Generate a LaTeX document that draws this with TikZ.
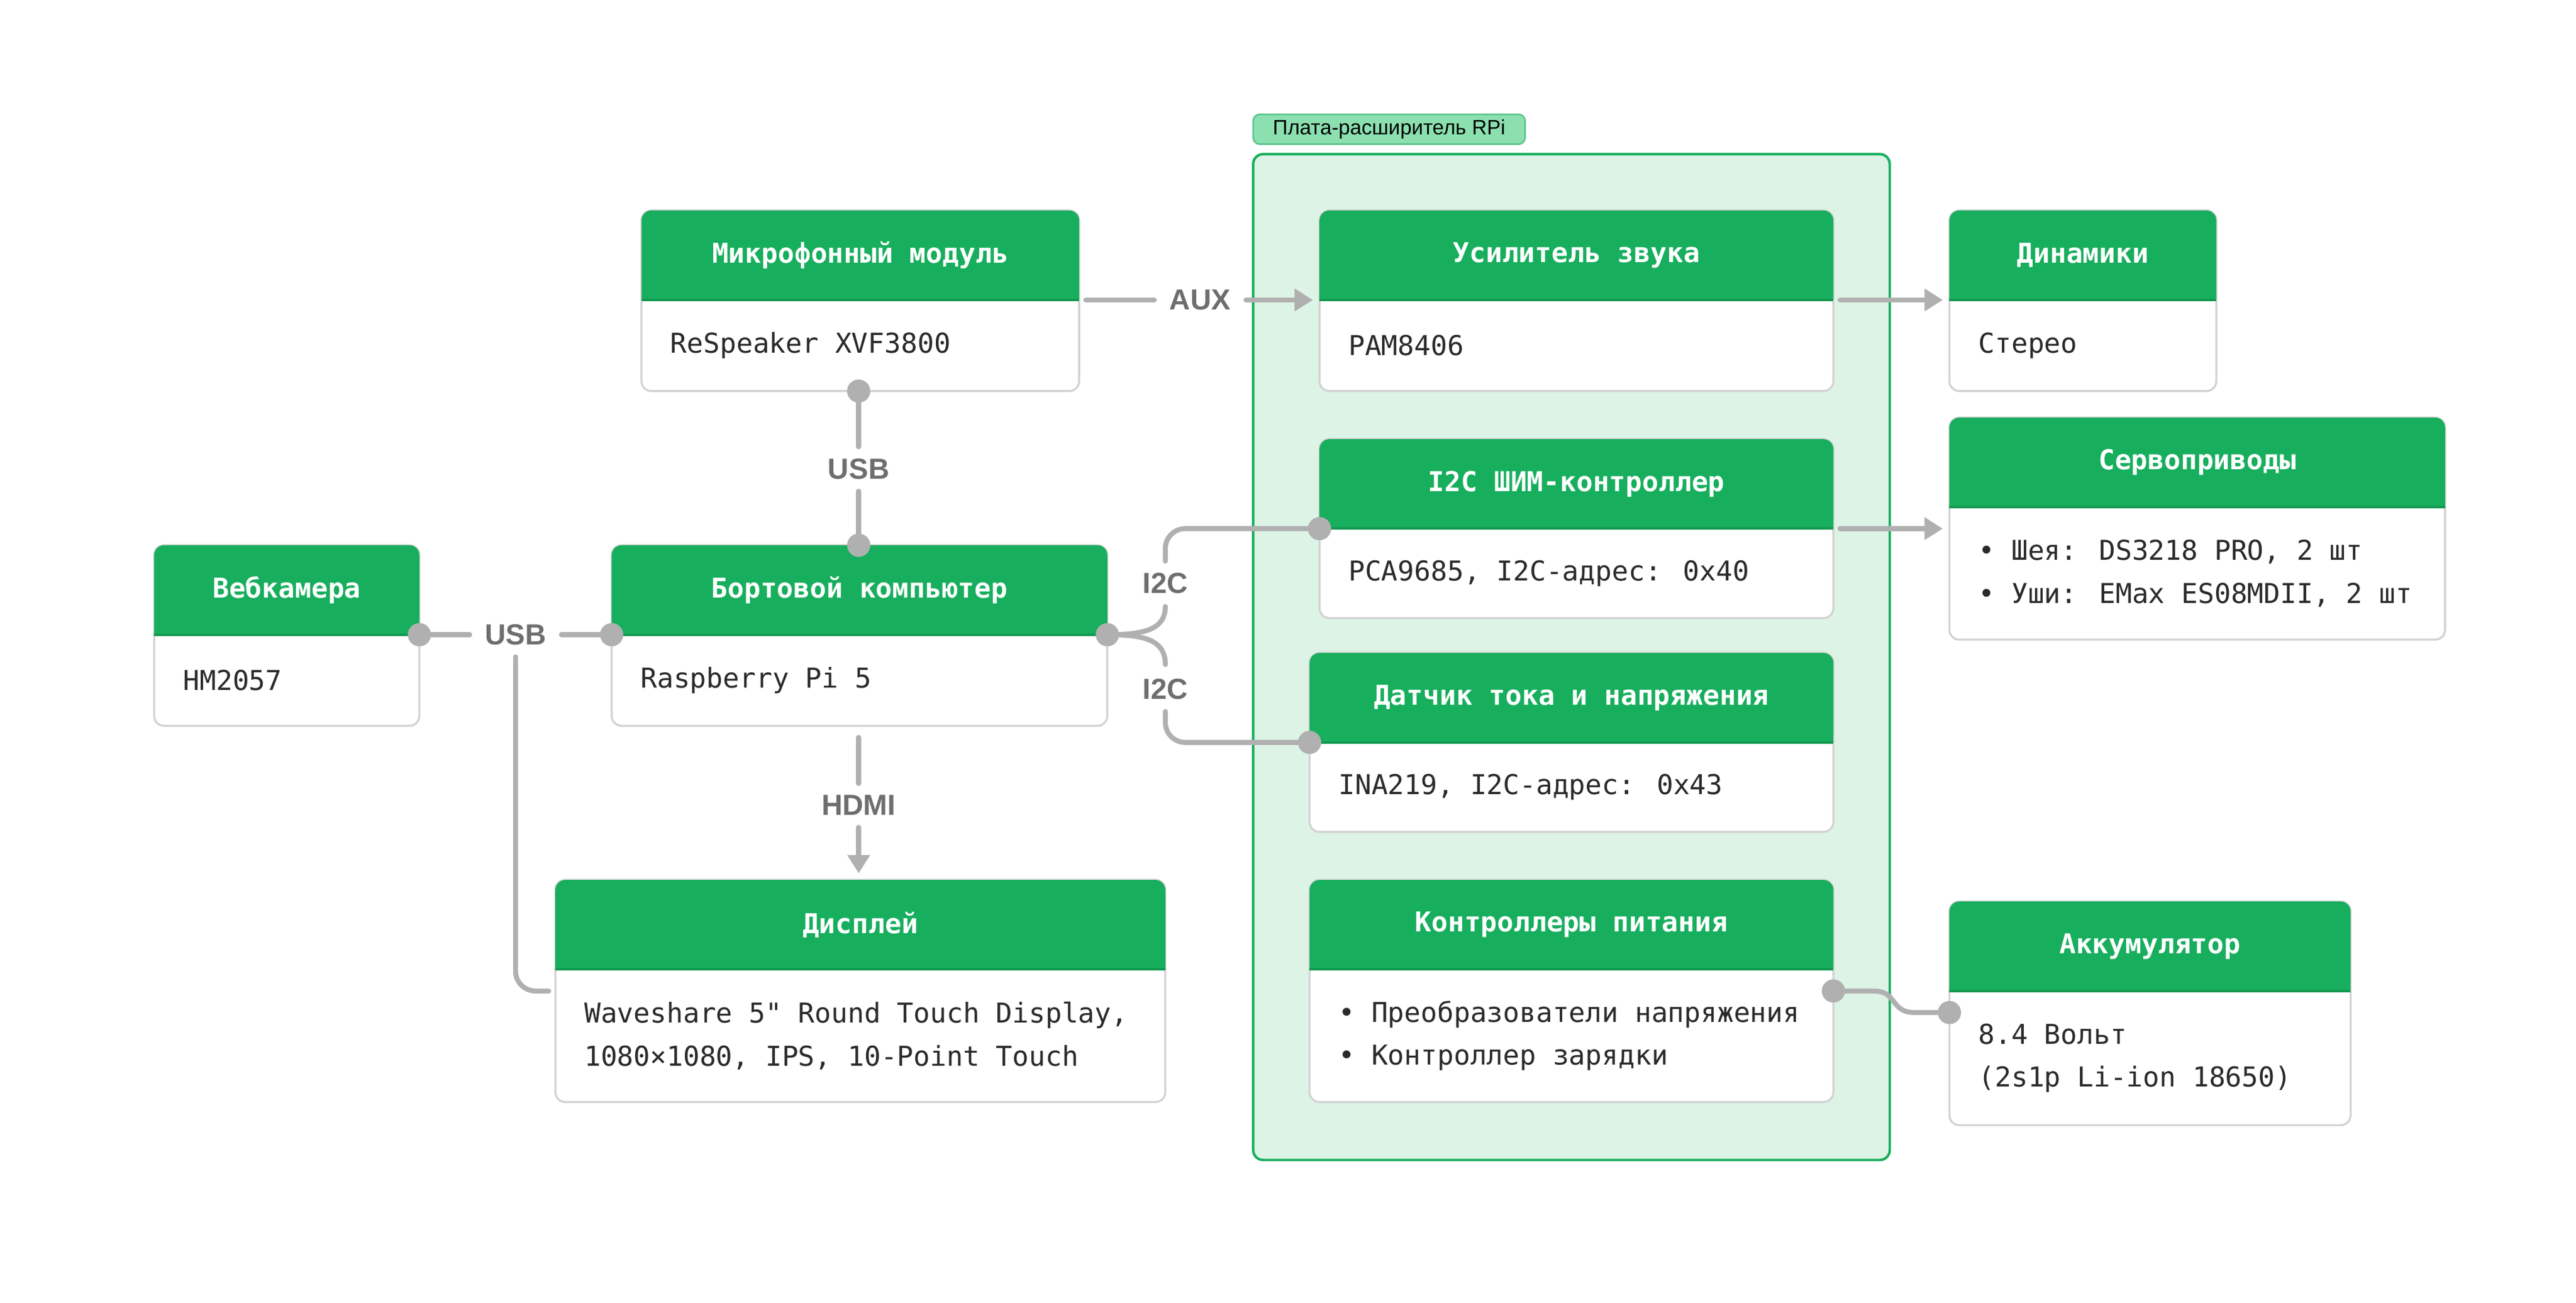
\documentclass[tikz,border=0pt]{standalone}
\usepackage{fontspec}
\newfontfamily\mono{DejaVu Sans Mono}
\newfontfamily\lab{Liberation Sans}
\usetikzlibrary{arrows.meta}
\definecolor{hg}{HTML}{17AE5D}
\definecolor{hgd}{HTML}{12984F}
\definecolor{bd}{HTML}{D2D2D2}
\definecolor{ln}{HTML}{B0B0B0}
\definecolor{lt}{HTML}{6E6E6E}
\definecolor{cont}{HTML}{DDF3E6}
\definecolor{tag}{HTML}{8CE0B0}
\definecolor{txt}{HTML}{2A2A2A}
\tikzset{
 conn/.style={draw=ln,line width=3,line cap=round},
 arr/.style={conn,-{Triangle[length=11,width=13]}},
 dot/.style={circle,fill=ln,inner sep=0,minimum size=14},
 lbl/.style={font=\lab\bfseries\fontsize{17.5}{20}\selectfont,text=lt,inner xsep=9,inner ysep=7},
 hdrt/.style={font=\mono\bfseries\fontsize{16.5}{20}\selectfont,text=white},
 bodyt/.style={font=\mono\fontsize{16.5}{26}\selectfont,text=txt,align=left,anchor=west},
}
\newcommand\blk[8]{%
 \fill[white,draw=bd,line width=1.2,rounded corners=6] (#2,#3) rectangle (#4,#5);
 \fill[hg] (#2,#6) [rounded corners=6] -- (#2,#3) -- (#4,#3) [sharp corners] -- (#4,#6) -- cycle;
 \draw[hgd,line width=1.5] (#2,#6) -- (#4,#6);
 \node[hdrt] (#1h) at ({(#2+#4)/2},{(#3+#6)/2}) {#7};
 \node[bodyt] (#1) at ({#2+14},{(#6+#5)/2}) {#8};
}
\begin{document}
\begin{tikzpicture}[x=1pt,y=-1pt]
\useasboundingbox (0,0) rectangle (1554,786);
\fill[white] (0,0) rectangle (1554,786);
% container
\fill[cont,draw=hg,line width=1.5,rounded corners=6] (756,93) rectangle (1140,700);
\fill[tag,draw=hg!70,line width=1,rounded corners=4] (756,69) rectangle (920,87);
\node[font=\lab\fontsize{12.5}{14}\selectfont,text=black] (tagt) at (838,78) {Плата-расширитель RPi};
% blocks
\blk{mic}{387}{127}{651}{236}{181}{Микрофонный модуль}{ReSpeaker XVF3800}
\blk{amp}{796}{127}{1106}{236}{181}{Усилитель звука}{PAM8406}
\blk{dyn}{1176}{127}{1337}{236}{181}{Динамики}{Стерео}
\blk{pwm}{796}{265}{1106}{373}{319}{I2C ШИМ-контроллер}{PCA9685, I2C-адрес: 0x40}
\blk{srv}{1176}{252}{1475}{386}{306}{Сервоприводы}{• Шея: DS3218 PRO, 2 шт\\• Уши: EMax ES08MDII, 2 шт}
\blk{cam}{93}{329}{253}{438}{383}{Вебкамера}{HM2057}
\blk{pc}{369}{329}{668}{438}{383}{Бортовой компьютер}{Raspberry Pi 5}
\blk{sen}{790}{394}{1106}{502}{448}{Датчик тока и напряжения}{INA219, I2C-адрес: 0x43}
\blk{dsp}{335}{531}{703}{665}{585}{Дисплей}{Waveshare 5" Round Touch Display,\\1080×1080, IPS, 10-Point Touch}
\blk{pwr}{790}{531}{1106}{665}{585}{Контроллеры питания}{• Преобразователи напряжения\\• Контроллер зарядки}
\blk{bat}{1176}{544}{1418}{679}{598}{Аккумулятор}{8.4 Вольт\\(2s1p Li-ion 18650)}
% labels
\node[lbl] (laux) at (724,181) {AUX};
\node[lbl] (lusb1) at (518,283) {USB};
\node[lbl] (lusb2) at (311,383) {USB};
\node[lbl] (li1) at (703,352) {I2C};
\node[lbl] (li2) at (703,416) {I2C};
\node[lbl] (lhdmi) at (518,486) {HDMI};
% coordinates
\coordinate (micE) at (655,181); \coordinate (ampW) at (792,181);
\coordinate (ampE) at (1110,181); \coordinate (dynW) at (1172,181);
\coordinate (pwmE) at (1110,319); \coordinate (srvW) at (1172,319);
\coordinate (micS) at (518,236); \coordinate (pcN) at (518,329);
\coordinate (camE) at (253,383); \coordinate (pcW) at (369,383);
\coordinate (pcE) at (668,383); \coordinate (pwmW) at (796,319);
\coordinate (senW) at (790,448); \coordinate (pcS) at (518,445);
\coordinate (dspN) at (518,527); \coordinate (dspW) at (331,598);
\coordinate (pwrE) at (1106,598); \coordinate (batW) at (1176,611);
% connectors
\draw[conn] (micE) -- (laux.west);
\draw[arr] (laux.east) -- (ampW);
\draw[arr] (ampE) -- (dynW);
\draw[arr] (pwmE) -- (srvW);
\draw[conn] (micS) -- (lusb1.north);
\draw[conn] (lusb1.south) -- (pcN);
\draw[conn] (camE) -- (lusb2.west);
\draw[conn] (lusb2.east) -- (pcW);
\draw[conn,rounded corners=12] (lusb2.south) -- (311,598) -- (dspW);
\draw[conn] (pcE) .. controls (690,383) and (703,380) .. (703,366);
\draw[conn,rounded corners=12] (li1.north) -- (703,319) -- (pwmW);
\draw[conn] (pcE) .. controls (690,383) and (703,386) .. (703,401);
\draw[conn,rounded corners=12] (li2.south) -- (703,448) -- (senW);
\draw[conn] (pcS) -- (lhdmi.north);
\draw[arr] (lhdmi.south) -- (dspN);
\draw[conn] (pwrE) -- (1130,598) .. controls (1145,598) and (1140,611) .. (1155,611) -- (batW);
% dots
\foreach \p in {micS,pcN,camE,pcW,pcE,pwmW,senW,pwrE,batW} \node[dot] at (\p) {};
\end{tikzpicture}
\end{document}
